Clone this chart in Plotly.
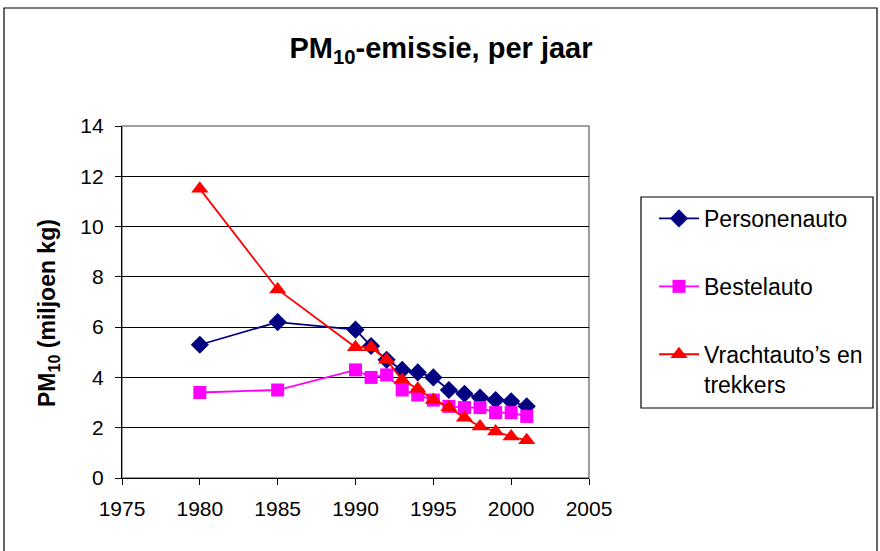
import plotly.graph_objects as go

years = [1980, 1985, 1990, 1991, 1992, 1993, 1994, 1995, 1996, 1997, 1998, 1999, 2000, 2001]
personenauto = [5.3, 6.2, 5.9, 5.25, 4.7, 4.3, 4.2, 4.0, 3.5, 3.35, 3.2, 3.1, 3.05, 2.85]
bestelauto = [3.4, 3.5, 4.3, 4.0, 4.1, 3.5, 3.3, 3.1, 2.85, 2.8, 2.8, 2.6, 2.6, 2.45]
vrachtauto = [11.5, 7.5, 5.2, 5.2, 4.7, 3.9, 3.55, 3.1, 2.8, 2.4, 2.05, 1.85, 1.65, 1.5]

series_names = ["Personenauto", "Bestelauto", "Vrachtauto’s en<br>trekkers"]
title_text = "PM<sub>10</sub>-emissie, per jaar"
y_title = "PM<sub>10</sub> (miljoen kg)"

FONT = "Liberation Sans, Arial, sans-serif"

fig = go.Figure()
fig.add_trace(go.Scatter(x=years, y=personenauto, name=series_names[0], mode="lines+markers",
                         line=dict(color="#000080", width=1.8),
                         marker=dict(symbol="diamond", size=14, color="#000080"),
                         legendgroup="a"))
fig.add_trace(go.Scatter(x=years, y=bestelauto, name=series_names[1], mode="lines+markers",
                         line=dict(color="#FF00FF", width=1.8),
                         marker=dict(symbol="square", size=13, color="#FF00FF"),
                         legendgroup="b"))
fig.add_trace(go.Scatter(x=years, y=vrachtauto, name=series_names[2], mode="lines+markers",
                         line=dict(color="#FF0000", width=1.8),
                         marker=dict(symbol="triangle-up", size=15, color="#FF0000"),
                         legendgroup="c"))

L, R, T, B = 122, 291, 126, 73
W, H = 880, 551
pw, ph = W - L - R, H - T - B

def px_x(p):
    return (p - L) / pw

def px_y(p):
    return (H - B - p) / ph

shapes = [
    # plot area border (gray)
    dict(type="rect", xref="paper", yref="paper", x0=0, x1=1, y0=0, y1=1,
         line=dict(color="#808080", width=1.5), layer="below"),
    # chart outer border
    dict(type="rect", xref="paper", yref="paper", x0=px_x(4), x1=px_x(877), y0=px_y(560), y1=px_y(8),
         line=dict(color="#000000", width=1.2)),
    # legend box
    dict(type="rect", xref="paper", yref="paper", x0=px_x(641), x1=px_x(873), y0=px_y(408), y1=px_y(197),
         line=dict(color="#000000", width=1.2)),
]

annotations = [
    dict(text=y_title, textangle=-90, xref="paper", yref="paper",
         x=px_x(48), y=px_y(313), xanchor="center", yanchor="middle", showarrow=False,
         font=dict(size=23, family=FONT, color="black", weight="bold")),
]

fig.update_layout(
    width=W, height=H,
    margin=dict(l=L, r=R, t=T, b=B, pad=0, autoexpand=False),
    paper_bgcolor="white", plot_bgcolor="white",
    font=dict(family=FONT, color="black", size=21),
    title=dict(text=title_text, x=px_x(441), xref="paper", xanchor="center",
               y=1 - 48 / H, yanchor="middle",
               font=dict(family=FONT, size=29, color="black", weight="bold")),
    xaxis=dict(range=[1975, 2005], dtick=5, tick0=1975, showgrid=False, zeroline=False,
               showline=True, linecolor="black", linewidth=1.2,
               ticks="outside", ticklen=6, tickcolor="black", tickwidth=1,
               ticklabelstandoff=6,
               tickfont=dict(size=21, family=FONT, color="black")),
    yaxis=dict(range=[0, 14], dtick=2, showgrid=True, gridcolor="#000000", gridwidth=1,
               zeroline=False, showline=True, linecolor="black", linewidth=1.2,
               ticks="outside", ticklen=6, tickcolor="black", tickwidth=1,
               ticklabelstandoff=7,
               tickfont=dict(size=21, family=FONT, color="black")),
    legend=dict(x=px_x(654), y=px_y(197), xanchor="left", yanchor="top",
                bgcolor="rgba(0,0,0,0)", borderwidth=0,
                font=dict(size=23, family=FONT, color="black"),
                tracegroupgap=35, valign="top", itemwidth=40),
    shapes=shapes,
    annotations=annotations,
    showlegend=True,
)

fig.write_html("out.html")
